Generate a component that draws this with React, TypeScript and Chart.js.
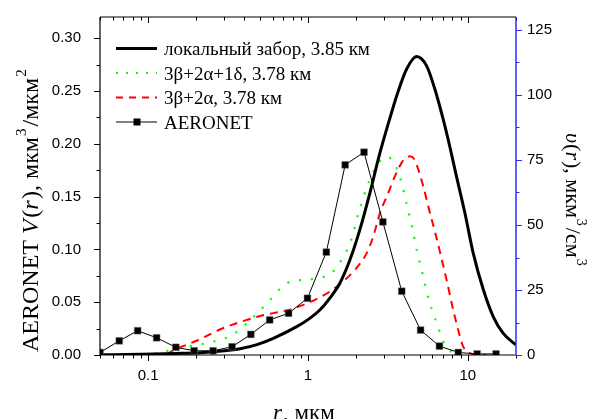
import React, { useEffect, useRef } from 'react';
import { Chart, registerables } from 'chart.js';

Chart.register(...registerables);

// ---------- data ----------
const seriesLabels = [
  'локальный забор, 3.85 км',
  '3β+2α+1δ, 3.78 км',
  '3β+2α, 3.78 км',
  'AERONET',
];

// AERONET (left axis, мкм³/мкм²)
const aeronetR = [0.05, 0.066, 0.086, 0.113, 0.149, 0.194, 0.255, 0.335, 0.439, 0.576, 0.756, 0.992,
  1.302, 1.708, 2.241, 2.94, 3.857, 5.061, 6.641, 8.713, 11.432, 15.0];
const aeronetV = [0.0024, 0.0134, 0.0230, 0.0163, 0.0073, 0.0040, 0.0040, 0.0078, 0.0195, 0.0332, 0.0395,
  0.0537, 0.0974, 0.180, 0.192, 0.126, 0.0604, 0.0236, 0.0084, 0.0024, 0.0010, 0.0010];

// локальный забор (right axis, мкм³/см³)
const localR = [0.05, 0.089, 0.15, 0.211, 0.3, 0.376, 0.48, 0.607, 0.85, 1.0, 1.19, 1.37, 1.585, 1.83, 2.11,
  2.44, 2.82, 3.25, 3.67, 4.14, 4.78, 5.52, 6.22, 7.01, 7.72, 8.5, 9.58, 10.8, 12.5, 14.4, 16.6, 19.7, 20];
const localV = [0.05, 0.3, 0.6, 0.9, 1.6, 2.4, 4.0, 6.4, 10.9, 13.6, 17.4, 21.9, 27.7, 36.6, 48.2,
  62.4, 77.8, 91.0, 101.5, 110.0, 114.8, 111.2, 102.2, 90.6, 80.0, 68.5, 54.6, 39.2, 25.1, 14.8, 8.4, 4.2, 3.9];

// 3β+2α+1δ (right axis)
const greenR = [0.11, 0.122, 0.144, 0.175, 0.206, 0.244, 0.296, 0.35, 0.414, 0.494, 0.579, 0.685, 0.809,
  0.972, 1.16, 1.37, 1.585, 1.746, 1.875, 1.97, 2.06, 2.18, 2.3, 2.47, 2.69, 2.9, 3.1, 3.3, 3.55, 3.8,
  4.14, 4.49, 4.82, 5.26, 5.73, 6.07, 6.43, 6.85, 7.18, 7.72, 8.29, 9.0];
const greenV = [0.5, 1.3, 1.9, 3.2, 3.9, 4.9, 6.2, 8.4, 12.2, 16.7, 21.2, 26.1, 28.6,
  28.9, 29.8, 31.0, 35.6, 40.2, 44.7, 49.5, 54.3, 58.9, 63.6, 68.1, 72.9, 75.3, 76.2, 75.5, 72.4, 67.5,
  58.2, 48.9, 39.6, 30.2, 20.6, 16.1, 11.6, 7.1, 3.9, 1.7, 0.7, 0.2];

// 3β+2α (right axis)
const redR = [0.13, 0.144, 0.179, 0.22, 0.269, 0.334, 0.414, 0.501, 0.607, 0.736, 0.935, 1.13, 1.37, 1.66,
  2.01, 2.33, 2.56, 2.82, 3.18, 3.5, 3.85, 4.1, 4.34, 4.6, 4.89, 5.26, 5.79, 6.22, 6.85, 7.36, 8.09, 8.7,
  9.35, 10.3, 11.5, 13.0];
const redV = [0, 1.9, 4.2, 6.6, 9.3, 11.6, 13.5, 15.0, 16.1, 17.1, 19.3, 21.5, 24.4, 28.3,
  33.4, 39.2, 45.6, 54.6, 62.4, 68.8, 73.9, 75.8, 76.4, 75.5, 71.5, 64.9, 54.6, 47.5, 37.0, 28.9, 17.4, 9.6,
  3.2, 0.7, 0.1, 0];

// tick labels
const xTickLabels = [0.1, 1, 10];
const leftTickLabels = [0, 0.05, 0.1, 0.15, 0.2, 0.25, 0.3];
const rightTickLabels = [0, 25, 50, 75, 100, 125];

const X_MIN = 0.05, X_MAX = 20, Y_MAX = 0.32, Y2_MAX = 130;

const SERIF = '"Liberation Serif", "Times New Roman", serif';
const SANS = '"Liberation Sans", Arial, sans-serif';

type Part = { t: string; it?: boolean; sup?: boolean; gap?: number };

function drawRich(ctx: CanvasRenderingContext2D, parts: Part[], size: number, supSize: number, supDy: number) {
  let x = 0;
  for (const p of parts) {
    const s = p.sup ? supSize : size;
    ctx.font = `${p.it ? 'italic ' : ''}${s}px ${SERIF}`;
    ctx.fillText(p.t, x, p.sup ? supDy : 0);
    x += ctx.measureText(p.t).width + (p.gap || 0);
  }
}

const framePlugin = {
  id: 'frame',
  afterDatasetsDraw(chart: any) {
    const { ctx, chartArea: a, scales } = chart;
    const sx = scales.x, sy = scales.y, sy2 = scales.y2;
    ctx.save();
    ctx.lineCap = 'butt';
    // black frame (left, bottom, top)
    ctx.strokeStyle = '#000';
    ctx.lineWidth = 1.2;
    ctx.beginPath();
    ctx.moveTo(a.left, a.top); ctx.lineTo(a.left, a.bottom); ctx.lineTo(a.right, a.bottom);
    ctx.moveTo(a.left, a.top); ctx.lineTo(a.right, a.top);
    ctx.stroke();
    // x ticks (log, major + minor), bottom outward, top inward
    ctx.lineWidth = 1;
    ctx.beginPath();
    for (let d = -2; d <= 1; d++) {
      for (let m = 1; m <= 9; m++) {
        const v = m * Math.pow(10, d);
        if (v < X_MIN - 1e-9 || v > X_MAX + 1e-9) continue;
        const px = Math.round(sx.getPixelForValue(v)) + 0.5;
        const len = m === 1 ? 6 : 3.5;
        ctx.moveTo(px, a.bottom); ctx.lineTo(px, a.bottom + len);
        ctx.moveTo(px, a.top); ctx.lineTo(px, a.top + len);
      }
    }
    // left ticks
    for (let i = 0; i <= 12; i++) {
      const v = i * 0.025;
      const py = Math.round(sy.getPixelForValue(v)) + 0.5;
      const len = i % 2 === 0 ? 6 : 3.5;
      ctx.moveTo(a.left, py); ctx.lineTo(a.left - len, py);
    }
    ctx.stroke();
    // right axis (blue)
    ctx.strokeStyle = '#2b2bff';
    ctx.lineWidth = 1.5;
    ctx.beginPath();
    ctx.moveTo(a.right, a.top); ctx.lineTo(a.right, a.bottom);
    ctx.stroke();
    ctx.lineWidth = 1;
    ctx.beginPath();
    for (let i = 0; i <= 10; i++) {
      const v = i * 12.5;
      const py = Math.round(sy2.getPixelForValue(v)) + 0.5;
      const len = i % 2 === 0 ? 6 : 3.5;
      ctx.moveTo(a.right, py); ctx.lineTo(a.right + len, py);
    }
    ctx.stroke();

    // axis titles
    ctx.fillStyle = '#000';
    ctx.textBaseline = 'alphabetic';
    ctx.textAlign = 'left';
    // left title
    ctx.save();
    ctx.translate(38, 352);
    ctx.rotate(-Math.PI / 2);
    drawRich(ctx, [
      { t: 'AERONET ' }, { t: 'V', it: true, gap: 1.5 }, { t: '(' }, { t: 'r', it: true, gap: 1.5 }, { t: '), мкм', gap: 1 },
      { t: '3', sup: true, gap: 2 }, { t: '/мкм', gap: 1 }, { t: '2', sup: true },
    ], 24, 15, -12);
    ctx.restore();
    // right title
    ctx.save();
    ctx.translate(566, 133);
    ctx.rotate(Math.PI / 2);
    drawRich(ctx, [
      { t: 'υ', it: true, gap: 1 }, { t: '(' }, { t: 'r', it: true, gap: 1 }, { t: '), мкм', gap: 1 },
      { t: '3', sup: true, gap: 2 }, { t: '/см', gap: 1 }, { t: '3', sup: true },
    ], 22, 14, -11);
    ctx.restore();
    // x title
    ctx.save();
    ctx.translate(273, 420);
    drawRich(ctx, [{ t: 'r', it: true, gap: 1 }, { t: ', мкм' }], 23, 14, -10);
    ctx.restore();

    // legend
    const rows = [48.5, 73, 97.5, 122];
    const x0 = 116, x1 = 157;
    // solid
    ctx.strokeStyle = '#000'; ctx.lineWidth = 3; ctx.setLineDash([]);
    ctx.beginPath(); ctx.moveTo(x0, rows[0]); ctx.lineTo(x1, rows[0]); ctx.stroke();
    // green dotted
    ctx.strokeStyle = '#00ff00'; ctx.lineWidth = 2.2; ctx.setLineDash([2, 8]);
    ctx.beginPath(); ctx.moveTo(x0, rows[1]); ctx.lineTo(x1, rows[1]); ctx.stroke();
    // red dashed
    ctx.strokeStyle = '#ff0000'; ctx.lineWidth = 2; ctx.setLineDash([7, 6]);
    ctx.beginPath(); ctx.moveTo(x0, rows[2]); ctx.lineTo(x1, rows[2]); ctx.stroke();
    // aeronet
    ctx.setLineDash([]);
    ctx.strokeStyle = '#000'; ctx.lineWidth = 1;
    ctx.beginPath(); ctx.moveTo(x0, rows[3]); ctx.lineTo(x1, rows[3]); ctx.stroke();
    ctx.fillStyle = '#000';
    ctx.fillRect(137 - 3.5, rows[3] - 3.5, 7, 7);
    ctx.font = `19px ${SERIF}`;
    seriesLabels.forEach((lab, i) => {
      ctx.fillText(lab, 164, rows[i] + 6.5);
    });
    ctx.restore();
  },
};

function toXY(rs: number[], vs: number[]) {
  return rs.map((r, i) => ({ x: r, y: vs[i] }));
}

function noPad(s: any) {
  s.paddingTop = 0; s.paddingBottom = 0; s.paddingLeft = 0; s.paddingRight = 0;
}

export default function App() {
  const ref = useRef<HTMLCanvasElement | null>(null);
  useEffect(() => {
    if (!ref.current) return;
    const chart = new Chart(ref.current, {
      type: 'line',
      data: {
        datasets: [
          {
            label: seriesLabels[3],
            data: toXY(aeronetR, aeronetV),
            yAxisID: 'y',
            borderColor: '#000',
            borderWidth: 1,
            pointStyle: 'rect',
            pointRadius: 4.8,
            pointBackgroundColor: '#000',
            pointBorderColor: 'rgba(120,120,120,0.6)',
            pointBorderWidth: 0.8,
            tension: 0,
          },
          {
            label: seriesLabels[0],
            data: toXY(localR, localV),
            yAxisID: 'y2',
            borderColor: '#000',
            borderWidth: 3,
            pointRadius: 0,
            cubicInterpolationMode: 'monotone',
          },
          {
            label: seriesLabels[1],
            data: toXY(greenR, greenV),
            yAxisID: 'y2',
            borderColor: '#00ff00',
            borderWidth: 2.2,
            borderDash: [2, 10],
            pointRadius: 0,
            cubicInterpolationMode: 'monotone',
          },
          {
            label: seriesLabels[2],
            data: toXY(redR, redV),
            yAxisID: 'y2',
            borderColor: '#ff0000',
            borderWidth: 2,
            borderDash: [8, 6],
            pointRadius: 0,
            cubicInterpolationMode: 'monotone',
          },
        ],
      },
      options: {
        responsive: false,
        animation: false,
        layout: { padding: { top: 17, left: 0, right: 0, bottom: 0 } },
        plugins: { legend: { display: false }, tooltip: { enabled: false }, title: { display: false } },
        scales: {
          x: {
            type: 'logarithmic',
            min: X_MIN,
            max: X_MAX,
            grid: { display: false, drawTicks: false },
            border: { display: false },
            afterBuildTicks: (s: any) => { s.ticks = xTickLabels.map((v) => ({ value: v })); },
            afterFit: (s: any) => { s.height = 64; noPad(s); },
            ticks: {
              autoSkip: false,
              maxRotation: 0,
              padding: 12,
              color: '#000',
              font: { family: SANS, size: 15 },
              callback: (v: any) => String(v),
            },
          },
          y: {
            type: 'linear',
            position: 'left',
            min: 0,
            max: Y_MAX,
            grid: { display: false, drawTicks: false },
            border: { display: false },
            afterBuildTicks: (s: any) => { s.ticks = leftTickLabels.map((v) => ({ value: v })); },
            afterFit: (s: any) => { s.width = 100; noPad(s); },
            ticks: {
              padding: 19,
              color: '#000',
              font: { family: SANS, size: 15 },
              callback: (v: any) => Number(v).toFixed(2),
            },
          },
          y2: {
            type: 'linear',
            position: 'right',
            min: 0,
            max: Y2_MAX,
            grid: { display: false, drawTicks: false },
            border: { display: false },
            afterBuildTicks: (s: any) => { s.ticks = rightTickLabels.map((v) => ({ value: v })); },
            afterFit: (s: any) => { s.width = 74; noPad(s); },
            ticks: {
              padding: 11,
              color: '#000',
              font: { family: SANS, size: 15 },
              callback: (v: any) => String(v),
            },
          },
        },
      },
      plugins: [framePlugin],
    });
    return () => chart.destroy();
  }, []);
  return (
    <div style={{ position: 'fixed', left: 0, top: 0, width: 590, height: 419, background: '#fff' }}>
      <canvas ref={ref} width={590} height={419} style={{ display: 'block' }} />
    </div>
  );
}
